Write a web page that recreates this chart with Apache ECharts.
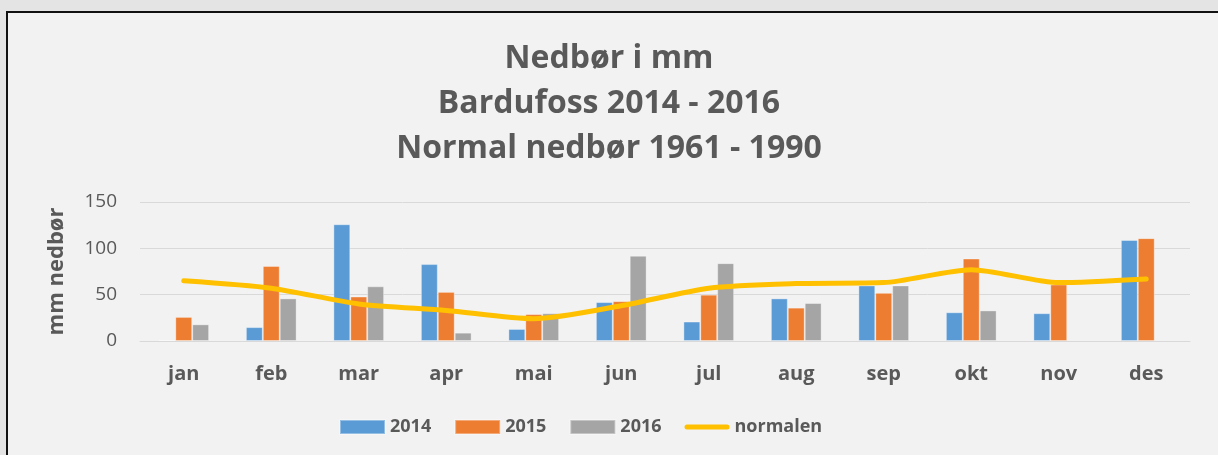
<!DOCTYPE html>
<html>
<head>
<meta charset="utf-8">
<script src="https://cdn.jsdelivr.net/npm/echarts@6/dist/echarts.min.js"></script>
<style>
  html, body { margin: 0; padding: 0; background: #e4e4e4; overflow: hidden; }
  #box { position: absolute; left: 6px; top: 11px; width: 1300px; height: 500px;
         border: 2px solid #111; background: #f2f2f2; }
  #chart { position: absolute; left: 0; top: 0; width: 1218px; height: 455px; }
</style>
</head>
<body>
<div id="box"></div>
<div id="chart"></div>
<script>
  const months = ["jan", "feb", "mar", "apr", "mai", "jun", "jul", "aug", "sep", "okt", "nov", "des"];
  const y2014 = [1, 15, 126, 83, 13, 42, 21, 46, 60, 31, 30, 109];
  const y2015 = [26, 81, 48, 53, 29, 43, 50, 36, 52, 89, 61, 111];
  const y2016 = [18, 46, 59, 9, 30, 92, 84, 41, 60, 33, null, null];
  const normalen = [65, 57, 40, 33, 24, 38, 57, 62, 63, 77, 63, 67];

  const txt = "#595959";
  const font = "Open Sans";

  const chart = echarts.init(document.getElementById("chart"));

  const bar = (name, data, color) => ({
    name,
    type: "bar",
    data,
    barGap: "0%",
    barCategoryGap: "42%",
    itemStyle: { color, borderColor: "rgba(255,255,255,0.35)", borderWidth: 1 },
  });

  chart.setOption({
    animation: false,
    backgroundColor: "transparent",
    textStyle: { fontFamily: font },
    title: {
      text: "Nedbør i mm\nBardufoss 2014 - 2016\nNormal nedbør 1961 - 1990",
      left: "center",
      top: 31,
      textStyle: { fontSize: 32, fontWeight: "bold", color: txt, lineHeight: 45, fontFamily: font },
    },
    grid: { left: 140, right: 28, top: 202, bottom: 114 },
    legend: {
      top: 413,
      left: 334,
      itemWidth: 45,
      itemHeight: 14,
      itemGap: 23,
      textStyle: { fontSize: 18, fontWeight: "bold", color: txt, fontFamily: font },
      data: [
        { name: "2014", icon: "rect" },
        { name: "2015", icon: "rect" },
        { name: "2016", icon: "rect" },
        {
          name: "normalen",
          icon: "path://M2.5,0 L42.5,0 A2.5,2.5 0 0 1 42.5,5 L2.5,5 A2.5,2.5 0 0 1 2.5,0 Z",
        },
      ],
    },
    xAxis: {
      type: "category",
      data: months,
      axisLine: { lineStyle: { color: "#d9d9d9", width: 1 } },
      axisTick: { show: false },
      axisLabel: { fontSize: 20, fontWeight: "bold", color: txt, margin: 23 },
    },
    yAxis: {
      type: "value",
      min: 0,
      max: 150,
      interval: 50,
      name: "mm nedbør",
      nameLocation: "middle",
      nameRotate: 90,
      nameGap: 72,
      nameTextStyle: { fontSize: 22, fontWeight: "bold", color: txt },
      axisLine: { show: false },
      axisTick: { show: false },
      axisLabel: { fontSize: 19, color: txt, margin: 23 },
      splitLine: { lineStyle: { color: "#d9d9d9", width: 1 } },
    },
    series: [
      bar("2014", y2014, "#5b9bd5"),
      bar("2015", y2015, "#ed7d31"),
      bar("2016", y2016, "#a5a5a5"),
      {
        name: "normalen",
        type: "line",
        data: normalen,
        symbol: "none",
        smooth: 0.25,
        z: 5,
        itemStyle: { color: "#ffc000" },
        lineStyle: { color: "#ffc000", width: 5, cap: "round", join: "round" },
      },
    ],
  });
</script>
</body>
</html>
